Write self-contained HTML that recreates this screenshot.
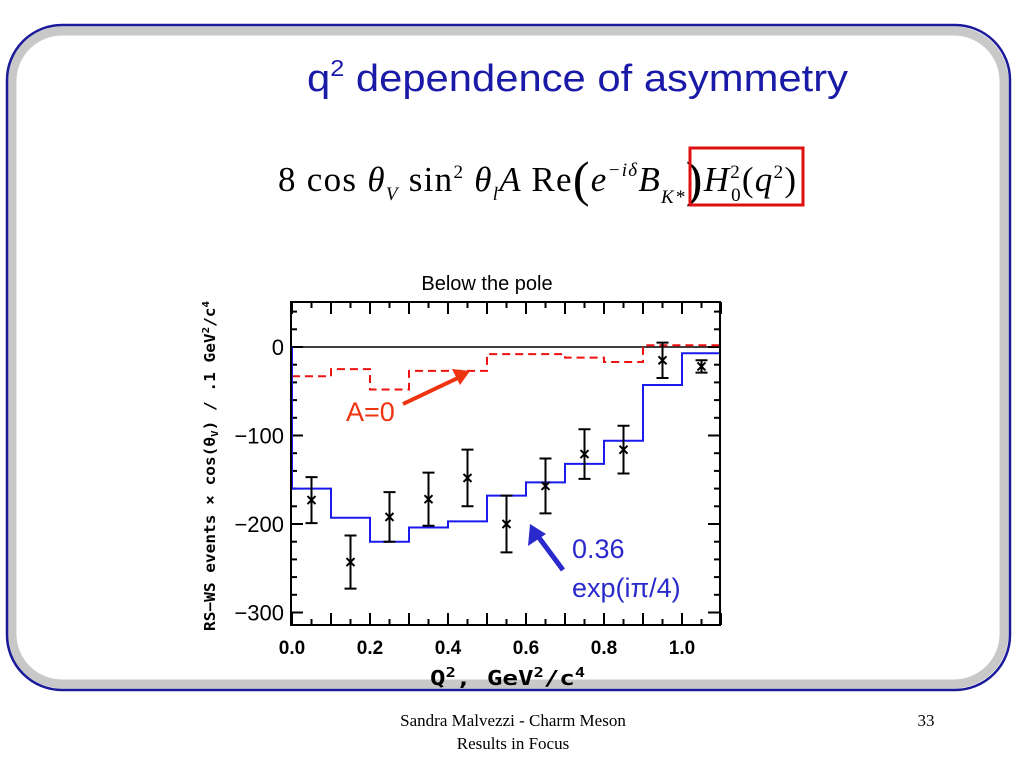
<!DOCTYPE html>
<html><head><meta charset="utf-8">
<style>
html,body{margin:0;padding:0;background:#fff;width:1024px;height:768px;overflow:hidden}
svg text{font-family:"Liberation Sans",sans-serif}
</style></head>
<body>
<svg id="s" width="1024" height="768" viewBox="0 0 1024 768" xmlns="http://www.w3.org/2000/svg">
  <g>
    <rect x="12" y="31" width="992" height="653" rx="50" fill="none" stroke="#c8c8c8" stroke-width="9"/>
    <rect x="7" y="25" width="1003" height="665" rx="55" fill="none" stroke="#1a1a9a" stroke-width="2.5"/>
  </g>
  <text x="307" y="91" font-size="38" fill="#1a1aa8" textLength="541" lengthAdjust="spacingAndGlyphs">q<tspan font-size="23" dy="-15">2</tspan><tspan dy="15"> dependence of asymmetry</tspan></text>
  <g>
    <text x="278" y="191" font-size="35" textLength="518" lengthAdjust="spacing" style="font-family:'Liberation Serif',serif">8 cos <tspan font-style="italic">θ</tspan><tspan font-size="19" dy="9" font-style="italic">V</tspan><tspan dy="-9"> sin</tspan><tspan font-size="19" dy="-13">2</tspan><tspan dy="13" font-style="italic"> θ</tspan><tspan font-size="19" dy="9" font-style="italic">l</tspan><tspan dy="-9" font-style="italic">A </tspan><tspan>Re</tspan><tspan font-size="50" dy="5">(</tspan><tspan dy="-5" font-style="italic">e</tspan><tspan font-size="19" dy="-15" font-style="italic">−iδ</tspan><tspan dy="15" font-style="italic">B</tspan><tspan font-size="19" dy="12" font-style="italic">K*</tspan><tspan font-size="50" dy="-7">)</tspan><tspan dy="-5" font-style="italic">H</tspan><tspan font-size="19" dy="-13">2</tspan><tspan font-size="19" dx="-10" dy="23">0</tspan><tspan dy="-10">(</tspan><tspan font-style="italic">q</tspan><tspan font-size="19" dy="-13">2</tspan><tspan dy="13">)</tspan></text>
    <rect x="690" y="148" width="113" height="57" fill="none" stroke="#e01010" stroke-width="3"/>
  </g>
  <text x="487" y="290" font-size="20" text-anchor="middle">Below the pole</text>
  <text transform="translate(215,466) rotate(-90)" font-size="15" font-weight="bold" text-anchor="middle" textLength="330" lengthAdjust="spacingAndGlyphs" style="font-family:'DejaVu Sans Mono',monospace">RS−WS events × cos(θ<tspan font-size="10" dy="3">V</tspan><tspan dy="-3">) / .1 GeV</tspan><tspan font-size="10" dy="-6">2</tspan><tspan dy="6">/c</tspan><tspan font-size="10" dy="-6">4</tspan></text>
  <text x="430" y="685" font-size="20" font-weight="bold" textLength="155" lengthAdjust="spacingAndGlyphs" style="font-family:'DejaVu Sans Mono',monospace">Q<tspan font-size="13" dy="-8">2</tspan><tspan dy="8">, GeV</tspan><tspan font-size="13" dy="-8">2</tspan><tspan dy="8">/c</tspan><tspan font-size="13" dy="-8">4</tspan></text>
  <g id="plot"></g>
  <text x="513" y="726" font-size="17" text-anchor="middle" style="font-family:'Liberation Serif',serif">Sandra Malvezzi - Charm Meson</text>
  <text x="513" y="749" font-size="17" text-anchor="middle" style="font-family:'Liberation Serif',serif">Results  in Focus</text>
  <text x="926" y="726" font-size="17" text-anchor="middle" style="font-family:'Liberation Serif',serif">33</text>
</svg>
<script>
const binEdges=[0,0.1,0.2,0.3,0.4,0.5,0.6,0.7,0.8,0.9,1.0,1.1];
const pointX=[0.05,0.15,0.25,0.35,0.45,0.55,0.65,0.75,0.85,0.95,1.05];
const pointY=[-173,-243,-192,-172,-148,-200,-157,-121,-116,-15,-22];
const pointErr=[26,30,28,30,32,32,31,28,27,20,7];
const blueModel=[-160,-193,-220,-204,-197,-168,-153,-132,-106,-43,-7];
const redModel=[-33,-25,-48,-27,-27,-8,-8,-12,-17,2,2];
const xTicks=[0,0.2,0.4,0.6,0.8,1.0];
const xTickLabels=["0.0","0.2","0.4","0.6","0.8","1.0"];
const yTicks=[0,-100,-200,-300];
const yTickLabels=["0","−100","−200","−300"];

const L=291,R=720,T=302,B=625;
const X=v=>292+v*390;
const Y=v=>347-v*0.885;
const NS="http://www.w3.org/2000/svg";
const g=document.getElementById('plot');
function mk(tag,attrs){const e=document.createElementNS(NS,tag);for(const k in attrs)e.setAttribute(k,attrs[k]);g.appendChild(e);return e;}

for(let i=0;i<=22;i++){const v=i*0.05;const len=(i%2===0)?12:6;
  let t=mk('line',{x1:X(v),x2:X(v),y1:B,y2:B-len,stroke:'#000','stroke-width':2});
  
  t=mk('line',{x1:X(v),x2:X(v),y1:T,y2:T+len,stroke:'#000','stroke-width':2});
  }
for(let v=40;v>=-310;v-=20){const len=(v%100===0)?12:6;
  let t=mk('line',{x1:L,x2:L+len,y1:Y(v),y2:Y(v),stroke:'#000','stroke-width':2});
  
  t=mk('line',{x1:R,x2:R-len,y1:Y(v),y2:Y(v),stroke:'#000','stroke-width':2});
  }
xTicks.forEach((v,i)=>{const t=mk('text',{x:X(v),y:654,'font-size':19,'font-weight':'bold','text-anchor':'middle'});t.textContent=xTickLabels[i];
  });
yTicks.forEach((v,i)=>{const t=mk('text',{x:284,y:Y(v)+8,'font-size':22,'text-anchor':'end'});t.textContent=yTickLabels[i];
  });

let z=mk('line',{x1:L,x2:R,y1:Y(0),y2:Y(0),stroke:'#000','stroke-width':1.5});


function stepPath(vals,startAtZero){let d=startAtZero?`M${X(binEdges[0])},${Y(0)} L${X(binEdges[0])},${Y(vals[0])}`:`M${X(binEdges[0])},${Y(vals[0])}`;
  vals.forEach((v,i)=>{d+=` L${X(binEdges[i])},${Y(v)} L${X(binEdges[i+1])},${Y(v)}`;});return d;}
let rp=mk('path',{d:stepPath(redModel,false),fill:'none',stroke:'#ee1111','stroke-width':2,'stroke-dasharray':'8,5'});

let bp=mk('path',{d:stepPath(blueModel,true),fill:'none',stroke:'#1a1aee','stroke-width':2});


pointX.forEach((x,i)=>{const cx=X(x),cy=Y(pointY[i]),e=pointErr[i];
  const p=mk('path',{d:`M${cx},${Y(pointY[i]+e)} L${cx},${Y(pointY[i]-e)} M${cx-6},${Y(pointY[i]+e)} L${cx+6},${Y(pointY[i]+e)} M${cx-6},${Y(pointY[i]-e)} L${cx+6},${Y(pointY[i]-e)} M${cx-4},${cy-4} L${cx+4},${cy+4} M${cx-4},${cy+4} L${cx+4},${cy-4}`,stroke:'#000','stroke-width':2,fill:'none'});
  });

let fr=mk('rect',{x:L,y:T,width:R-L,height:B-T,fill:'none',stroke:'#000','stroke-width':2});


let a1=mk('path',{d:'M403,404 L462,376',stroke:'#ee3311','stroke-width':4,fill:'none'});

let a1h=mk('polygon',{points:'470,371 452,369 460,385',fill:'#ee3311'});

let t1=mk('text',{x:346,y:421,'font-size':27,fill:'#ee3311'});t1.textContent='A=0';

let a2=mk('path',{d:'M563,570 L537,535',stroke:'#2a2acc','stroke-width':5,fill:'none'});

let a2h=mk('polygon',{points:'530,524 528,546 546,534',fill:'#2a2acc'});

let t2=mk('text',{x:572,y:558,'font-size':27,fill:'#2a2acc'});t2.textContent='0.36';

let t3=mk('text',{x:572,y:597,'font-size':27,fill:'#2a2acc'});t3.textContent='exp(iπ/4)';

</script>
</body></html>
